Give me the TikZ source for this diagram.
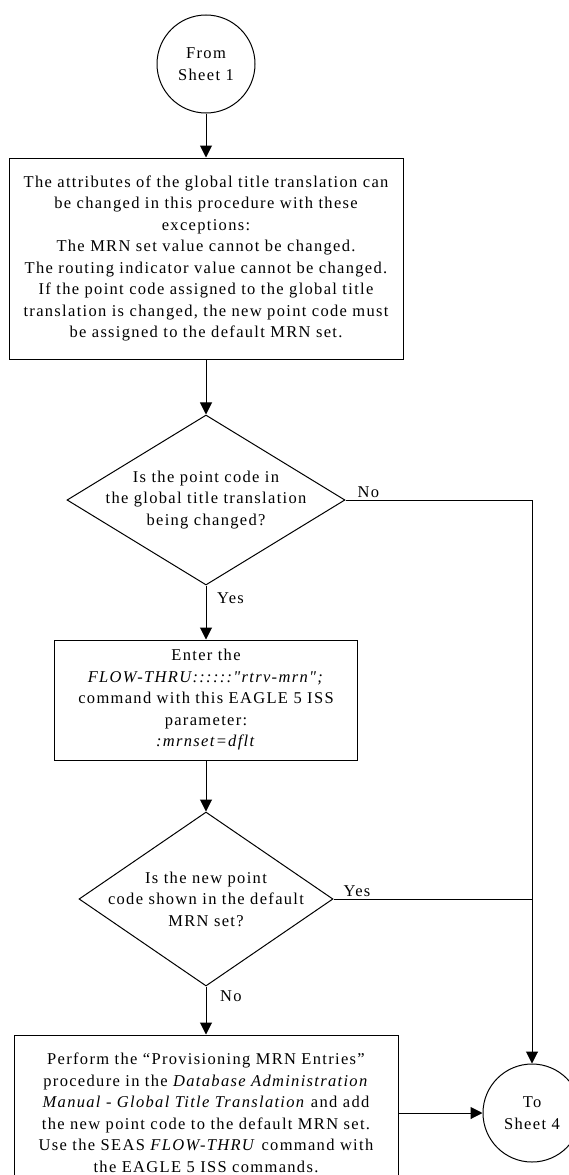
\documentclass[tikz,border=0pt]{standalone}
\usepackage{fontspec}
\newfontfamily\sheetfont{Liberation Serif}[LetterSpace=8]
\usetikzlibrary{arrows.meta,positioning,shapes.geometric}

\begin{document}
\begin{tikzpicture}[
    x=1pt, y=-1pt,
    every node/.style={font=\sheetfont\fontsize{16.5}{21.5}\selectfont},
    box/.style={rectangle, draw, line width=1pt, align=center, inner sep=0pt},
    connector/.style={circle, draw, line width=1pt, minimum size=98pt, align=center, inner sep=0pt},
    decision/.style={diamond, draw, line width=1pt, inner sep=0pt},
    arrow/.style={-{Triangle[length=12pt,width=12pt]}, line width=1pt},
    line/.style={line width=1pt},
    answer/.style={inner sep=2pt}
]
    \useasboundingbox (0,0) rectangle (568,1175);

    % From sheet 1
    \node[connector] (from1) at (206,64) {From\\Sheet 1};

    % Attributes that can be changed
    \node[box, minimum width=394pt, minimum height=201pt, below=44pt of from1] (attrib) {The attributes of the global title translation can\\
        be changed in this procedure with these\\
        exceptions:\\
        The MRN set value cannot be changed.\\
        The routing indicator value cannot be changed.\\
        If the point code assigned to the global title\\
        translation is changed, the new point code must\\
        be assigned to the default MRN set.};

    % Point code changed?
    \node[decision, minimum width=278pt, minimum height=170pt, below=55pt of attrib,
        label={[align=center]center:Is the point code in\\the global title translation\\being changed?}] (pcchg) {};

    % Retrieve default MRN set
    \node[box, minimum width=303pt, minimum height=120pt, below=54pt of pcchg] (rtrv) {Enter the\\
        \textit{FLOW-THRU::::::"rtrv-mrn";}\\
        command with this EAGLE 5 ISS\\
        parameter:\\
        \textit{:mrnset=dflt}};

    % Point code in default MRN set?
    \node[decision, minimum width=254pt, minimum height=174pt, below=51pt of rtrv,
        label={[align=center]center:Is the new point\\code shown in the default\\MRN set?}] (indflt) {};

    % Provision MRN entries
    \node[box, minimum width=384pt, minimum height=156pt, below=48pt of indflt] (prov) {Perform the “Provisioning MRN Entries”\\
        procedure in the \textit{Database Administration}\\
        \textit{Manual - Global Title Translation} and add\\
        the new point code to the default MRN set.\\
        Use the SEAS \textit{FLOW-THRU} command with\\
        the EAGLE 5 ISS commands.};

    % To sheet 4
    \node[connector, right=84pt of prov] (to4) {To\\Sheet 4};

    % Answers
    \node[answer, anchor=south west, xshift=10pt] (pcno) at (pcchg.east) {No};
    \node[answer, anchor=north west, xshift=9pt, yshift=-5pt] (pcyes) at (pcchg.south) {Yes};
    \node[answer, anchor=south west, xshift=8pt] (dfltyes) at (indflt.east) {Yes};
    \node[answer, anchor=north west, xshift=12pt, yshift=-2pt] (dfltno) at (indflt.south) {No};

    % Arrows
    \draw[arrow] (from1) -- (attrib);
    \draw[arrow] (attrib) -- (pcchg);
    \draw[arrow] (pcchg) -- (rtrv);
    \draw[arrow] (rtrv) -- (indflt);
    \draw[arrow] (indflt) -- (prov);
    \draw[arrow] (prov) -- (to4);
    \draw[arrow] (pcchg.east) -| (to4.north);
    \draw[line] (indflt.east) -- (indflt.east -| to4.north);

\end{tikzpicture}
\end{document}
